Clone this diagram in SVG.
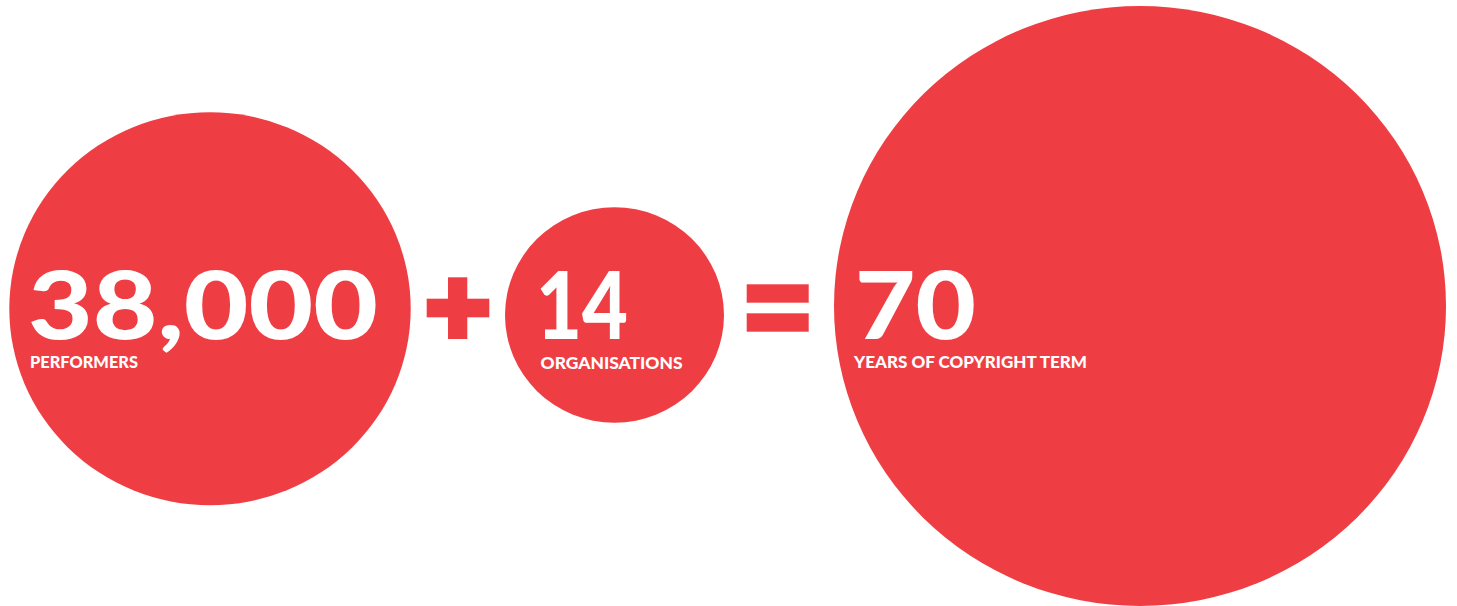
<svg xmlns="http://www.w3.org/2000/svg" width="1457" height="606" viewBox="0 0 1457 606">
<style>
.disc{fill:#ef3e43}
.op{fill:#ef3e43}
.big{font-family:Lato,"Liberation Sans",sans-serif;font-weight:900;font-size:93px;fill:#ffffff}
.lbl{font-family:Lato,"Liberation Sans",sans-serif;font-weight:900;font-size:16px;fill:#ffffff}
</style>
<rect width="1457" height="606" fill="#ffffff"/>
<g id="performers">
<ellipse class="disc" cx="210" cy="308.7" rx="200.7" ry="196.5"/>
<text class="big" x="28" y="339" textLength="350" lengthAdjust="spacingAndGlyphs">38,000</text>
<text class="lbl" x="30" y="368" textLength="108" lengthAdjust="spacingAndGlyphs">PERFORMERS</text>
</g>
<g id="organisations">
<ellipse class="disc" cx="614.5" cy="315" rx="109.5" ry="107.7"/>
<text class="big" x="536" y="339" textLength="92" lengthAdjust="spacingAndGlyphs">14</text>
<text class="lbl" x="540.5" y="368.5" textLength="142" lengthAdjust="spacingAndGlyphs">ORGANISATIONS</text>
</g>
<g id="copyright">
<ellipse class="disc" cx="1140" cy="306" rx="306" ry="300"/>
<text class="big" x="855" y="339" textLength="121" lengthAdjust="spacingAndGlyphs">70</text>
<text class="lbl" x="854" y="368" textLength="233" lengthAdjust="spacingAndGlyphs">YEARS OF COPYRIGHT TERM</text>
</g>
<g id="operators">
<g id="plus">
<rect class="op" x="448" y="277.3" width="19.3" height="61.7"/>
<rect class="op" x="426.7" y="298.7" width="62.6" height="18.6"/>
</g>
<g id="equals">
<rect class="op" x="746.7" y="284.3" width="62" height="18.4"/>
<rect class="op" x="746.7" y="313.3" width="62" height="18.4"/>
</g>
</g>
</svg>
